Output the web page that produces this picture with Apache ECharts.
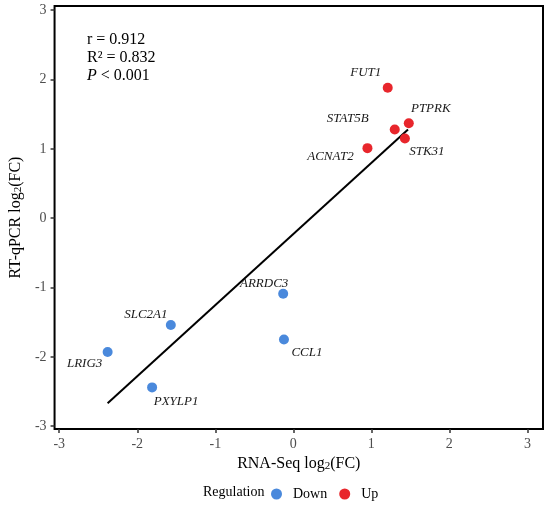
<!DOCTYPE html>
<html>
<head>
<meta charset="utf-8">
<script src="https://cdn.jsdelivr.net/npm/echarts@6/dist/echarts.min.js"></script>
<style>
  html, body { margin: 0; padding: 0; background: #fff; }
  #chart { width: 550px; height: 505px; }
</style>
</head>
<body>
<div id="chart"></div>
<script>
// RNA-Seq vs RT-qPCR log2(FC)
var downGenes = ['ARRDC3', 'CCL1', 'SLC2A1', 'LRIG3', 'PXYLP1'];
var downX = [-0.13, -0.12, -1.57, -2.38, -1.81];
var downY = [-1.09, -1.75, -1.54, -1.93, -2.44];

var upGenes = ['FUT1', 'PTPRK', 'STAT5B', 'STK31', 'ACNAT2'];
var upX = [1.21, 1.48, 1.30, 1.43, 0.95];
var upY = [1.88, 1.37, 1.28, 1.15, 1.01];

// fitted line endpoints
var fitX = [-2.38, 1.47];
var fitY = [-2.67, 1.28];

var tickValues = [-3, -2, -1, 0, 1, 2, 3];
var stats = ['r = 0.912', 'R\u00b2 = 0.832', '{i|P} < 0.001'];

var SERIF = '"Liberation Serif", "Times New Roman", serif';
var BLUE = '#4a89dc', RED = '#e8262c';

// where each gene name sits relative to its dot
var labelOffset = {
    FUT1: [-22, -15], PTPRK: [22, -15], STAT5B: [-47, -11], STK31: [22, 13], ACNAT2: [-37, 8],
    ARRDC3: [-19, -10], CCL1: [23, 13], SLC2A1: [-25, -10], LRIG3: [-23, 12], PXYLP1: [24, 14]
};

function points(names, xs, ys) {
    return names.map(function (nm, i) {
        return {
            name: nm,
            value: [xs[i], ys[i]],
            label: { offset: labelOffset[nm] }
        };
    });
}

var pointLabel = {
    show: true,
    position: 'inside',
    formatter: '{b}',
    fontFamily: SERIF,
    fontStyle: 'italic',
    fontSize: 13,
    color: '#1a1a1a'
};

var subRich = {
    sub: { fontSize: 11, fontFamily: SERIF, color: '#000', verticalAlign: 'bottom', lineHeight: 12 }
};

function axisCommon() {
    return {
        axisLine: { show: false, onZero: false },
        axisTick: { show: true, length: 4, customValues: tickValues, lineStyle: { color: '#333', width: 1.5 } },
        axisLabel: { customValues: tickValues, margin: 8, fontFamily: SERIF, fontSize: 14, color: '#4d4d4d' },
        splitLine: { show: false }
    };
}

var xAxis = axisCommon();
xAxis.type = 'value'; xAxis.min = -3.06; xAxis.max = 3.2;
xAxis.name = 'RNA-Seq log{sub|2}(FC)'; xAxis.nameLocation = 'middle'; xAxis.nameGap = 26;
xAxis.nameTextStyle = { fontFamily: SERIF, fontSize: 16, color: '#000', rich: subRich };

var yAxis = axisCommon();
yAxis.type = 'value'; yAxis.min = -3.04; yAxis.max = 3.06;
yAxis.name = 'RT-qPCR log{sub|2}(FC)'; yAxis.nameLocation = 'middle'; yAxis.nameGap = 30;
yAxis.nameTextStyle = { fontFamily: SERIF, fontSize: 16, color: '#000', rich: subRich };

var chart = echarts.init(document.getElementById('chart'));
chart.setOption({
    animation: false,
    grid: { left: 51, right: 7, top: 6, bottom: 76, show: true, borderColor: '#000', borderWidth: 2, backgroundColor: '#fff' },
    xAxis: xAxis,
    yAxis: yAxis,
    legend: {
        data: ['Down', 'Up'],
        left: 271, top: 487, padding: 0,
        icon: 'circle', itemWidth: 11, itemHeight: 11, itemGap: 12,
        textStyle: { fontFamily: SERIF, fontSize: 14, color: '#000', padding: [0, 0, 0, 6] }
    },
    graphic: [
        { type: 'text', left: 87, top: 32, style: { text: stats[0], font: '16px ' + SERIF, fill: '#000' } },
        { type: 'text', left: 87, top: 50, style: { text: stats[1], font: '16px ' + SERIF, fill: '#000' } },
        { type: 'text', left: 87, top: 68, style: { text: stats[2], font: '16px ' + SERIF, fill: '#000',
            rich: { i: { fontStyle: 'italic', fontSize: 16, fontFamily: SERIF } } } },
        { type: 'text', left: 203, top: 485, style: { text: 'Regulation', font: '14px ' + SERIF, fill: '#000' } }
    ],
    series: [
        {
            name: 'fit', type: 'line', data: fitX.map(function (x, i) { return [x, fitY[i]]; }),
            showSymbol: false, symbol: 'none', lineStyle: { color: '#000', width: 2 }, z: 1, silent: true
        },
        {
            name: 'Down', type: 'scatter', symbolSize: 10, itemStyle: { color: BLUE, opacity: 1 },
            data: points(downGenes, downX, downY), label: pointLabel, z: 3
        },
        {
            name: 'Up', type: 'scatter', symbolSize: 10, itemStyle: { color: RED, opacity: 1 },
            data: points(upGenes, upX, upY), label: pointLabel, z: 3
        }
    ]
});
</script>
</body>
</html>
